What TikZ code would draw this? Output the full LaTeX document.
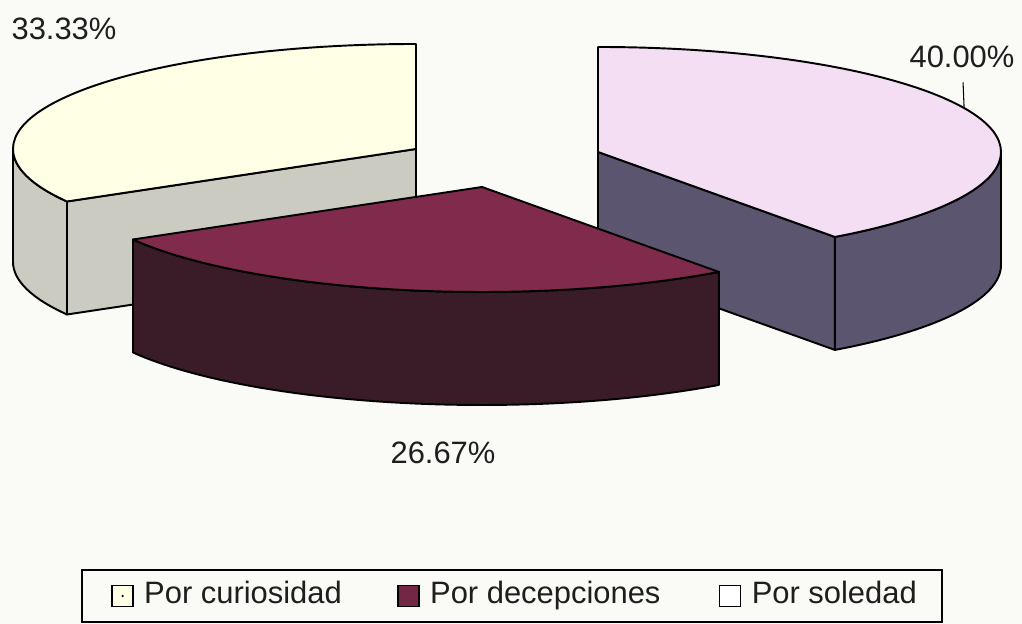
\documentclass[tikz,border=0pt]{standalone}
\usepackage{fontspec}
\setmainfont{Liberation Sans}
\usepackage{xcolor}
\usepackage{tikz}
\usetikzlibrary{calc,positioning}

\definecolor{fondo}{RGB}{250,250,246}
\definecolor{curtop}{RGB}{255,255,230}
\definecolor{curside}{RGB}{203,203,193}
\definecolor{dectop}{RGB}{128,42,76}
\definecolor{decside}{RGB}{58,28,40}
\definecolor{soltop}{RGB}{243,222,243}
\definecolor{solside}{RGB}{92,85,112}
\definecolor{texto}{RGB}{30,30,30}

\begin{document}
\begin{tikzpicture}[x=0.02cm, y=0.02cm, slice/.style = {draw=black, line width=1.1pt, line join=round}, pie/.style = {x radius=403, y radius=105}, node distance=0.2cm]
		\tikzset{pct/.style={font=\fontsize{17.6}{20}\selectfont, text=texto, inner sep=0pt}}
		\tikzset{legicon/.style={draw=black, line width=0.9pt, minimum size=0.42cm, inner sep=0pt}}
		\tikzset{legtext/.style={font=\fontsize{17.6}{20}\selectfont, text=texto, inner sep=0pt, text height=12.6pt, text depth=3.6pt}}

		% Canvas
		\fill[fondo] (0,0) rectangle (1022,624);
		\useasboundingbox (0,0) rectangle (1022,624);

		% Centers
		\coordinate (curc) at (416,475);
		\coordinate (solc) at (598,472);
		\coordinate (decc) at (482,437);

		% Por curiosidad
		\draw[slice, fill=curside] ($(curc)+(180:403 and 105)$) arc[pie, start angle=180, end angle=210] -- ++(0,-113) arc[pie, start angle=210, end angle=180] -- cycle;

		\draw[slice, fill=curside] (curc) -- ($(curc)+(210:403 and 105)$) -- ++(0,-113) -- ($(curc)+(0,-113)$) -- cycle;

		\draw[slice, fill=curtop] (curc) -- ($(curc)+(90:403 and 105)$) arc[pie, start angle=90, end angle=210] -- cycle;

		% Por soledad
		\draw[slice, fill=solside] ($(solc)+(0:403 and 105)$) arc[pie, start angle=0, end angle=-54] -- ++(0,-113) arc[pie, start angle=-54, end angle=0] -- cycle;

		\draw[slice, fill=solside] (solc) -- ($(solc)+(-54:403 and 105)$) -- ++(0,-113) -- ($(solc)+(0,-113)$) -- cycle;

		\draw[slice, fill=soltop] (solc) -- ($(solc)+(90:403 and 105)$) arc[pie, start angle=90, end angle=-54] -- cycle;

		% Por decepciones
		\draw[slice, fill=decside] ($(decc)+(210:403 and 105)$) arc[pie, start angle=210, end angle=306] -- ++(0,-113) arc[pie, start angle=306, end angle=210] -- cycle;

		\draw[slice, fill=dectop] (decc) -- ($(decc)+(210:403 and 105)$) arc[pie, start angle=210, end angle=306] -- cycle;

		% Percentages
		\node[pct] (pcur) at (64,595) {33.33\%};
		\node[pct] (psol) at (962,567) {40.00\%};
		\node[pct] (pdec) at (443,171) {26.67\%};

		\coordinate (tsol) at ($(solc)+(24.7:403 and 105)$);
		\draw[line width=0.6pt, shorten <=0.28cm] (psol) -- (tsol);

		% Legend
		\node[draw=black, line width=0.9pt, minimum width=17.2cm, minimum height=1.04cm, inner sep=0pt] (leg) at (512,28) {};

		\node[legicon, fill=curtop, right=0.6cm of leg.west] (icur) {};
		\fill[black] (icur.center) circle (0.7pt);
		\node[legtext, right=of icur] (tcur) {Por curiosidad};

		\node[legicon, fill=dectop!80!decside, right=1.1cm of tcur] (idec) {};
		\node[legtext, right=of idec] (tdec) {Por decepciones};

		\node[legicon, fill=white, right=1.16cm of tdec] (isol) {};
		\node[legtext, right=of isol] (tsoltext) {Por soledad};

	\end{tikzpicture}
\end{document}
